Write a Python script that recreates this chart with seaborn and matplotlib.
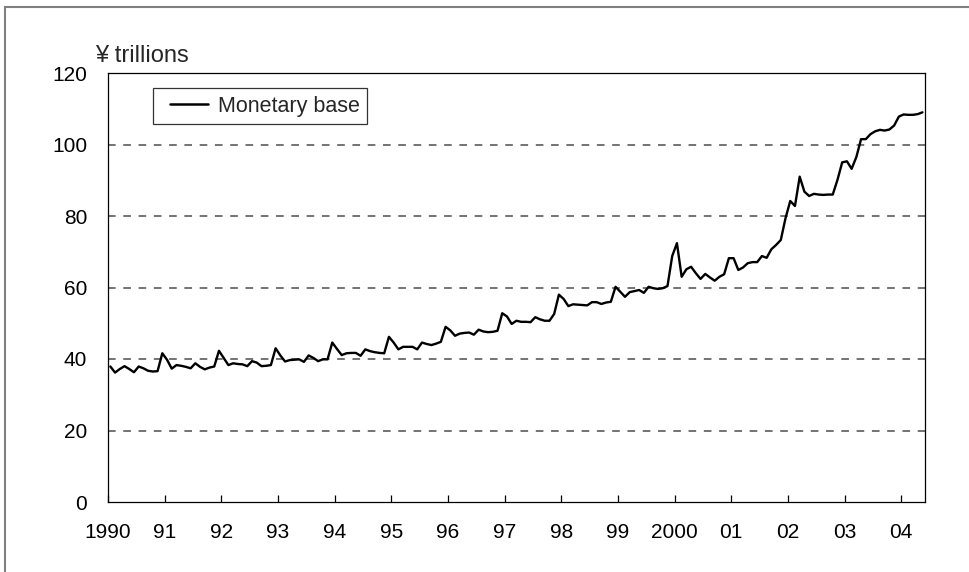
import numpy as np
import pandas as pd
import matplotlib
matplotlib.use("Agg")
import matplotlib.pyplot as plt
from matplotlib.patches import Rectangle
from matplotlib.legend_handler import HandlerLine2D
from matplotlib.lines import Line2D
import seaborn as sns

# monthly monetary base, Jan 1990 - May 2004 (¥ trillions)
years = list(range(1990, 2005))
base_1990 = [37.9, 36.2, 37.2, 38.0, 37.2, 36.3, 37.9, 37.4, 36.7, 36.5, 36.6, 41.6]
base_1991 = [39.8, 37.3, 38.3, 38.1, 37.8, 37.4, 38.8, 37.8, 37.1, 37.6, 37.9, 42.3]
base_1992 = [40.3, 38.3, 38.8, 38.6, 38.5, 38.0, 39.4, 39.0, 38.0, 38.1, 38.3, 43.0]
base_1993 = [41.0, 39.3, 39.7, 39.8, 39.9, 39.2, 41.0, 40.3, 39.4, 39.9, 39.9, 44.6]
base_1994 = [42.8, 41.1, 41.6, 41.7, 41.7, 40.9, 42.7, 42.2, 41.9, 41.7, 41.6, 46.2]
base_1995 = [44.6, 42.7, 43.4, 43.4, 43.4, 42.7, 44.6, 44.2, 43.9, 44.3, 44.8, 49.0]
base_1996 = [48.0, 46.5, 47.1, 47.3, 47.4, 46.8, 48.2, 47.7, 47.5, 47.6, 47.9, 52.8]
base_1997 = [51.9, 49.8, 50.7, 50.4, 50.4, 50.3, 51.7, 51.1, 50.7, 50.7, 52.6, 58.0]
base_1998 = [56.8, 54.8, 55.3, 55.2, 55.1, 55.0, 55.9, 55.9, 55.4, 55.8, 56.0, 60.2]
base_1999 = [58.8, 57.4, 58.7, 59.0, 59.3, 58.5, 60.2, 59.8, 59.6, 59.8, 60.4, 68.8]
base_2000 = [72.4, 63.0, 65.1, 65.8, 64.0, 62.4, 63.8, 62.8, 61.9, 63.0, 63.7, 68.2]
base_2001 = [68.2, 64.9, 65.6, 66.8, 67.1, 67.1, 68.8, 68.3, 70.7, 71.9, 73.3, 79.4]
base_2002 = [84.2, 82.8, 91.0, 86.8, 85.6, 86.2, 86.0, 85.9, 86.0, 86.0, 90.1, 95.0]
base_2003 = [95.3, 93.2, 96.5, 101.5, 101.5, 102.9, 103.7, 104.1, 103.9, 104.2, 105.3, 107.8]
base_2004 = [108.4, 108.3, 108.3, 108.5, 109.0]

tick_labels = ["1990", "91", "92", "93", "94", "95", "96", "97", "98", "99",
               "2000", "01", "02", "03", "04"]
series_name = "Monetary base"

values = (base_1990 + base_1991 + base_1992 + base_1993 + base_1994 + base_1995
          + base_1996 + base_1997 + base_1998 + base_1999 + base_2000 + base_2001
          + base_2002 + base_2003 + base_2004)
# mid-month positions on a fractional-year axis
t = 1990 + (np.arange(len(values)) + 0.5) / 12.0
df = pd.DataFrame({"t": t, "value": values, "series": series_name})

sns.set_style("white")
plt.rcParams["font.family"] = ["Liberation Sans", "DejaVu Sans"]

fig = plt.figure(figsize=(9.69, 5.72), dpi=100)
ax = fig.add_axes([108 / 969, 70 / 572, 817 / 969, 429 / 572])

sns.lineplot(data=df, x="t", y="value", hue="series", palette=["black"],
             linewidth=1.7, ax=ax)

ax.set_xlim(1990, 2004.42)
ax.set_ylim(0, 120)
ax.set_yticks(range(0, 121, 20))
ax.set_xticks(years)
ax.set_xticklabels(tick_labels)
ax.set_xlabel("")
ax.set_ylabel("")

for y in range(20, 101, 20):
    ax.axhline(y, color="#4d4d4d", linewidth=1.1, linestyle=(0, (5, 5)), zorder=1)

for s in ax.spines.values():
    s.set_visible(True)
    s.set_color("black")
    s.set_linewidth(0.9)

ax.tick_params(axis="x", direction="in", length=5, width=0.9, pad=15,
               labelsize=15, colors="black", bottom=True)
ax.tick_params(axis="y", length=0, pad=15, labelsize=15, colors="black")

ax.text(-13 / 817, 1 + 11 / 429, "¥ trillions", transform=ax.transAxes,
        fontsize=17, ha="left", va="baseline")

leg = ax.legend(loc="upper left", bbox_to_anchor=(45 / 817, 1 - 15.3 / 429),
                borderaxespad=0, fontsize=15.5, frameon=True, fancybox=False,
                handlelength=2.2, handletextpad=0.47, borderpad=0.34,
                handler_map={Line2D: HandlerLine2D(xpad=0.47)})
leg.get_frame().set_edgecolor("black")
leg.get_frame().set_linewidth(0.9)
leg.get_lines()[0].set_linewidth(1.8)

# outer border (top and left visible, rest cropped off)
fig.patches.append(Rectangle((5 / 969, -0.1), 1.2, (572 - 6.5) / 572 + 0.1,
                             transform=fig.transFigure, fill=False,
                             edgecolor="#808080", linewidth=1.5, clip_on=False))

fig.savefig("out.png", dpi=100)
